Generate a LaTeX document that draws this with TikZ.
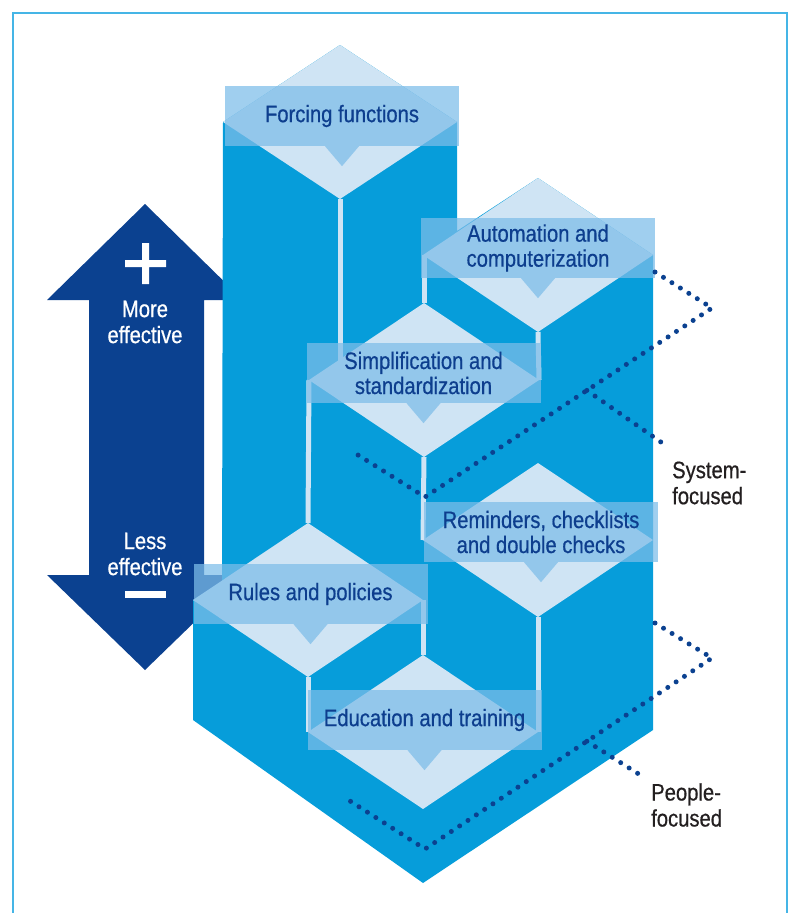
\documentclass[tikz,border=0pt]{standalone}
\usepackage{fontspec}
\setmainfont{Liberation Sans}[FakeStretch=0.85,FakeBold=0.6]
\usetikzlibrary{calc}
\definecolor{cyanblue}{HTML}{069DDA}
\definecolor{paleblue}{HTML}{CFE4F4}
\definecolor{tagblue}{HTML}{7DBDE9}
\definecolor{navy}{HTML}{0B4190}
\definecolor{inkblue}{HTML}{0D3E8E}
\definecolor{framec}{HTML}{45B5E6}
\definecolor{inkgray}{HTML}{231F20}
\tikzset{
	face/.style={fill=paleblue},
	gap/.style={draw=paleblue,line width=5pt},
	tag/.style={fill=tagblue,fill opacity=.73,text opacity=1,text=inkblue,minimum width=234pt,minimum height=60pt,inner sep=0pt,align=center,font=\fontsize{23.8}{25}\selectfont},
	tagtip/.style={fill=tagblue,fill opacity=.73},
	dots/.style={draw=navy,line width=5pt,line cap=round,dash pattern=on 0pt off 10pt},
	side/.style={text=inkgray,align=left,inner sep=0pt,anchor=west,font=\fontsize{23.8}{26}\selectfont},
}
\begin{document}
\begin{tikzpicture}[x=1pt,y=-1pt]
	\useasboundingbox (0,0) rectangle (792,913);
	\draw[framec,line width=2pt] (13,913) -- (13,13) -- (787,13) -- (787,913);
	% scale arrow
	\fill[navy] (145,204) -- (243,300) -- (204,300) -- (204,575) -- (243,575) -- (145,670) -- (47,575) -- (89,575) -- (89,300) -- (47,300) -- cycle;
	\fill[white] (125,260) rectangle (166,267) (142,243) rectangle (149,284);
	\fill[white] (125,591) rectangle (166,598);
	\node[white,align=center,inner sep=0pt,font=\fontsize{23.8}{26}\selectfont] (more) at (145,322) {More\\effective};
	\node[white,align=center,inner sep=0pt,font=\fontsize{23.8}{26}\selectfont] (less) at (145,554) {Less\\effective};
	% blocks
	\foreach \n/\x/\y/\w in {F/340/122/117,A/538/255/115,S/424/380/115,R/538/540/115,Ru/308/600/115,E/423/732/115}
		\path (\x,\y) +(0,-77) coordinate (\n-t) +(\w,0) coordinate (\n-r) +(0,77) coordinate (\n-b) +(-\w,0) coordinate (\n-l);
	\fill[cyanblue] (F-l) -- (222,582) -- (Ru-l) -- (193,720) -- (423,883) -- (653,730) -- (A-r) -- (A-t) -- (457,231) -- (F-r) -- (F-t) -- cycle;
	\draw[gap] (F-b) -- (F-b |- S-l);
	\draw[gap] (S-t |- A-l) -- (S-t);
	\draw[gap] (S-l) -- (Ru-t);
	\draw[gap] (A-b) -- (S-r);
	\draw[gap] (S-b) -- (R-l);
	\draw[gap] (R-b) -- (E-r);
	\draw[gap] (Ru-b) -- (E-l);
	\draw[gap] (Ru-r) -- (E-t);
	\foreach \n in {F,A,S,R,Ru,E}
		\fill[face] (\n-t) -- (\n-r) -- (\n-b) -- (\n-l) -- cycle;
	% labels
	\node[tag] (forcing) at (342,116) {Forcing functions};
	\node[tag] (automation) at (538,248) {Automation and\\computerization};
	\node[tag] (simplification) at (423.5,373) {Simplification and\\standardization};
	\node[tag] (reminders) at (541,532) {Reminders, checklists\\and double checks};
	\node[tag] (rules) at (310.5,594) {Rules and policies};
	\node[tag] (education) at (424.5,720) {Education and training};
	\foreach \n in {forcing,automation,simplification,reminders,rules,education}
		\fill[tagtip] (\n.south) ++(-17,0) -- ++(17,20) -- ++(17,-20) -- cycle;
	% groups
	\coordinate (sys1) at (655,272);
	\coordinate (sys2) at (712,308);
	\coordinate (sys3) at (425,497);
	\coordinate (sys4) at (350,450);
	\coordinate (peo1) at (655,623);
	\coordinate (peo2) at (712,658);
	\coordinate (peo3) at (425,849);
	\coordinate (peo4) at (350,801);
	\draw[dots] (sys1) -- (sys2) -- (sys3) -- (sys4);
	\draw[dots] (peo1) -- (peo2) -- (peo3) -- (peo4);
	\node[side] (system) at (672,483) {System-\\focused};
	\node[side] (people) at (651,805) {People-\\focused};
	\coordinate (syslead) at (668,447);
	\coordinate (peolead) at (645,778);
	\draw[dots] ($(sys2)!.436!(sys3)$) -- (syslead);
	\draw[dots] ($(peo2)!.436!(peo3)$) -- (peolead);
\end{tikzpicture}
\end{document}
